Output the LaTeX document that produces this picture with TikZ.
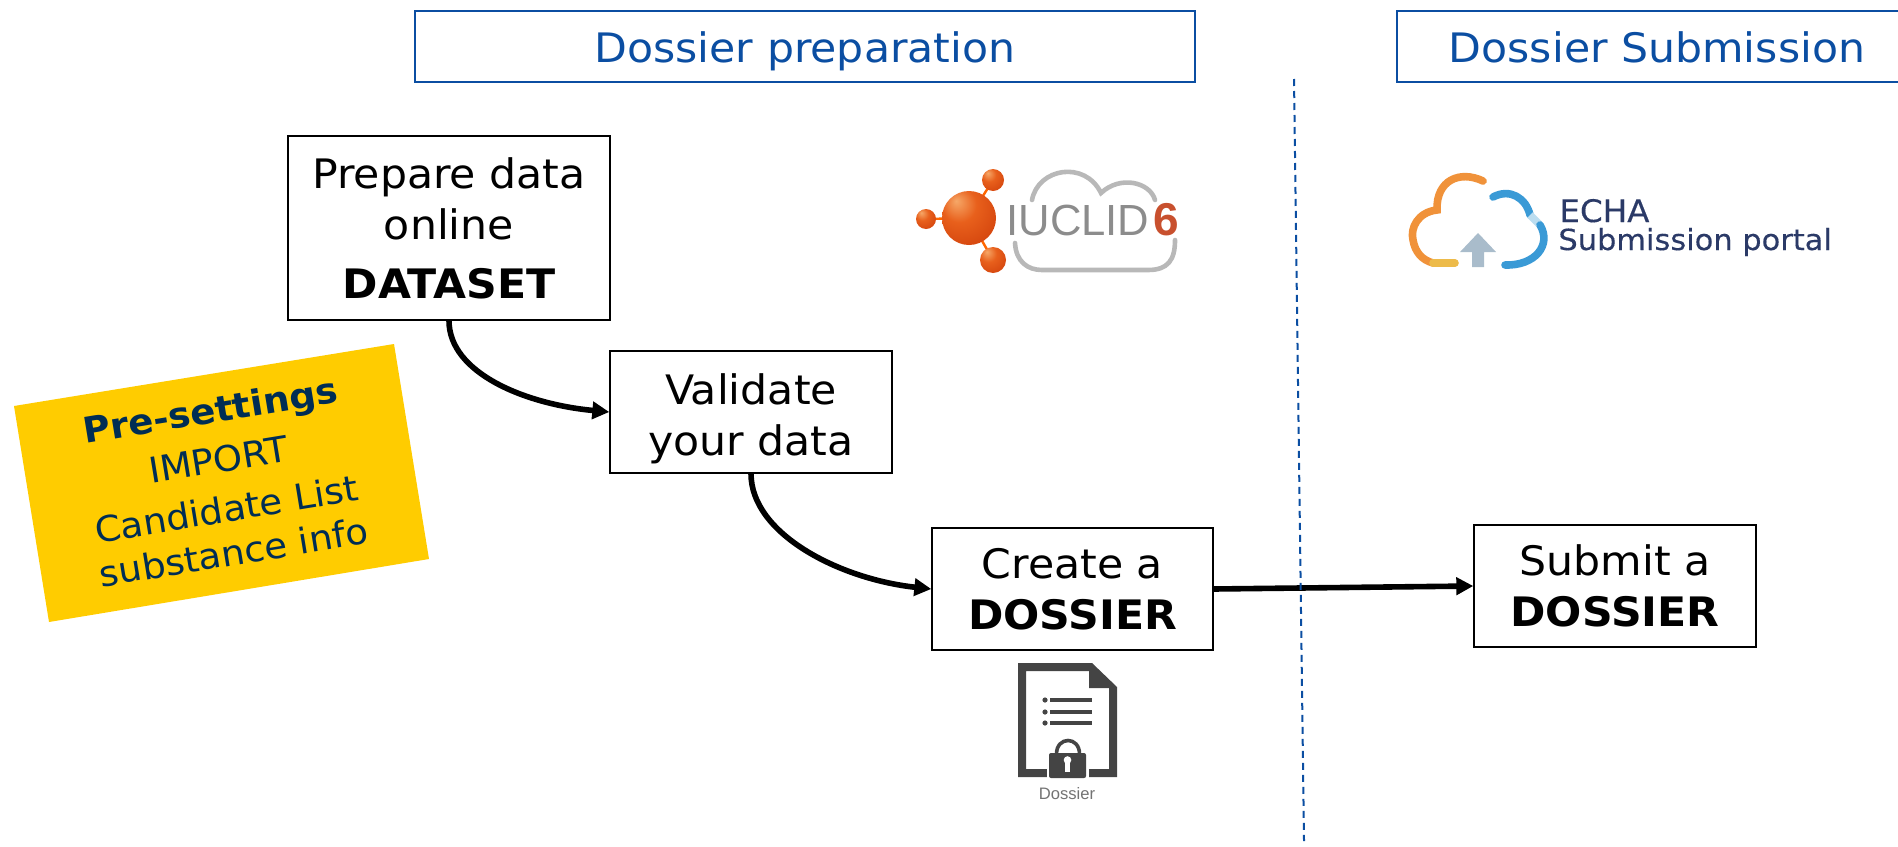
\documentclass[tikz,border=0pt]{standalone}
\usepackage{fontspec}
\setmainfont[FakeStretch=1.05]{DejaVu Sans}
\newfontfamily\logofont{Liberation Sans}
\newfontfamily\echafont[FakeStretch=1.05,FakeBold=0.3]{DejaVu Sans}
\usetikzlibrary{arrows.meta,calc}
\definecolor{headblue}{HTML}{0B4EA2}
\definecolor{navy}{HTML}{002D54}
\definecolor{amber}{HTML}{FFCC00}
\definecolor{iconGrey}{HTML}{444444}
\definecolor{cloudGrey}{HTML}{B8B8B8}
\definecolor{echaText}{HTML}{2B3A67}
\definecolor{echaOrange}{HTML}{F0923A}
\definecolor{echaYellow}{HTML}{EDBB4A}
\definecolor{echaBlue}{HTML}{3A9AD6}
\definecolor{echaPale}{HTML}{BBDDF0}
\definecolor{echaArrow}{HTML}{A9BCCB}
\definecolor{sixRed}{HTML}{C8502E}
\definecolor{orbA}{HTML}{F6A868}
\definecolor{orbB}{HTML}{E8601C}
\definecolor{orbC}{HTML}{CF3E0A}
\definecolor{orbD}{HTML}{A82E06}
\pgfdeclareradialshading{orb}{\pgfpoint{-12bp}{16bp}}{color(0bp)=(orbA); color(16bp)=(orbB); color(42bp)=(orbC); color(66bp)=(orbD)}
\tikzset{
  px/.style={x=0.5pt,y=-0.5pt},
  header/.style={draw=headblue,line width=0.6pt,text=headblue,font=\fontsize{20.3}{24}\selectfont,inner sep=0,anchor=center,text height=18pt,text depth=2pt},
  stepbox/.style={draw=black,line width=0.7pt,fill=white,align=center,inner sep=0,font=\fontsize{20.3}{25.5}\selectfont},
  flow/.style={line width=2.8pt,-{Triangle[length=8.5pt,width=8.5pt]},black},
  ball/.style={shading=orb,draw=none}
}
\begin{document}
\begin{tikzpicture}[px]
\useasboundingbox (0,0) rectangle (1898,846);
% headers
\node[header,minimum width=390pt,minimum height=35.5pt] (hprep) at (805,46.5) {Dossier preparation};
\node[header,minimum width=260pt,minimum height=35.5pt] (hsub) at (1657,46.5) {Dossier Submission};
% boxes
\node[stepbox,minimum width=161pt,minimum height=92pt] (prep) at (449,228) {Prepare data\\online\\[4pt]\textbf{DATASET}};
\node[stepbox,minimum width=141pt,minimum height=61pt] (val) at (751,412) {\rule{0pt}{22pt}Validate\\your data};
\node[stepbox,minimum width=140.5pt,minimum height=61pt] (create) at (1072.5,589) {Create a\\\textbf{DOSSIER}};
\node[stepbox,minimum width=141pt,minimum height=61pt] (submit) at (1615,586) {Submit a\\\textbf{DOSSIER}};
% connectors
\draw[flow] (prep.south) .. controls +(0,52) and +(-85,-8) .. (val.west);
\draw[flow] (val.south) .. controls +(0,60) and +(-92,-10) .. (create.west);
\draw[flow] (create.east) -- (submit.west);
% divider
\coordinate (dtop) at (1294,79);
\coordinate (dbot) at (1304,841);
\draw[headblue,line width=1pt,dash pattern=on 3.5pt off 2.5pt] (dtop) -- (dbot);
% pre-settings
\fill[amber] (14,406) -- (394,344) -- (429,559) -- (49,622) -- cycle;
\node[rotate=9.3,align=center,text=navy,inner sep=0,font=\fontsize{17.7}{25}\selectfont] (pre) at (222,481)
  {\textbf{Pre-settings}\\IMPORT\\Candidate List\\[-3pt]substance info};
% IUCLID logo
\draw[cloudGrey,line width=2.3pt,line cap=round] (1032,200) .. controls (1038,168) and (1085,160) .. (1101,193)
   .. controls (1120,175) and (1150,182) .. (1155,200);
\draw[cloudGrey,line width=2.3pt,line cap=round] (1015,243) .. controls (1016,262) and (1028,270) .. (1042,270)
   -- (1148,270) .. controls (1168,270) and (1175,260) .. (1175,240);
\draw[orange!80!red,line width=1.2pt] (969,218) -- (993,180) (969,218) -- (926,219) (969,218) -- (993,260);
\shade[ball] (969,218) circle[radius=27];
\shade[ball] (993,180) circle[radius=11];
\shade[ball] (926,219) circle[radius=10];
\shade[ball] (993,260) circle[radius=13];
\node[anchor=base west,inner sep=0,text=black!45,font=\logofont\fontsize{21.8}{22}\selectfont] (iuc) at (1006,235) {IUCLID};
\node[anchor=base west,inner sep=0,text=sixRed,font=\logofont\bfseries\fontsize{23}{22}\selectfont] (six) at (1153,235) {6};
% ECHA logo
\draw[echaOrange,line width=3.8pt,line cap=round] (1483,181) .. controls (1460,170) and (1436,180) .. (1437,210)
   .. controls (1418,212) and (1410,228) .. (1413,240) .. controls (1415,252) and (1422,260) .. (1433,263);
\draw[echaYellow,line width=3.8pt,line cap=round] (1433,263) -- (1455,263);
\draw[echaBlue,line width=3.8pt,line cap=round] (1493,197) .. controls (1510,188) and (1526,198) .. (1530,215);
\draw[echaPale,line width=3.8pt] (1530,215) -- (1540,225);
\draw[echaBlue,line width=3.8pt,line cap=round] (1540,225) .. controls (1552,245) and (1535,266) .. (1505,265);
\fill[echaArrow] (1478,233) -- (1496,252) -- (1484,252) -- (1484,267) -- (1472,267) -- (1472,252) -- (1460,252) -- cycle;
\node[anchor=base west,inner sep=0,text=echaText,font=\echafont\fontsize{15.5}{14}\selectfont] (echa1) at (1559,222) {ECHA};
\node[anchor=base west,inner sep=0,text=echaText,font=\echafont\fontsize{14.5}{14}\selectfont] (echa2) at (1558,250) {Submission portal};
% dossier icon
\fill[iconGrey,even odd rule] (1018,663) -- (1092,663) -- (1117,687) -- (1117,777) -- (1018,777) -- cycle
  (1026,671) -- (1089,671) -- (1089,688) -- (1109,688) -- (1109,769) -- (1026,769) -- cycle;
\foreach \yy in {700,712,723}{
  \fill[iconGrey] (1045,\yy) circle[radius=2.6];
  \draw[iconGrey,line width=2pt] (1050,\yy) -- (1092,\yy);
}
\fill[white] (1047,745) rectangle (1089,785);
\draw[iconGrey,line width=1.8pt] (1056.5,754) .. controls (1056.5,736) and (1079.5,736) .. (1079.5,754);
\fill[iconGrey,rounded corners=1pt] (1049,753) rectangle (1086,778);
\fill[white] (1067.5,760) circle[radius=3.8];
\fill[white] (1065,762) rectangle (1070,772);
\node[inner sep=0,text=black!55,font=\logofont\fontsize{8.3}{8}\selectfont] (dlabel) at (1067,794) {Dossier};
\end{tikzpicture}
\end{document}
